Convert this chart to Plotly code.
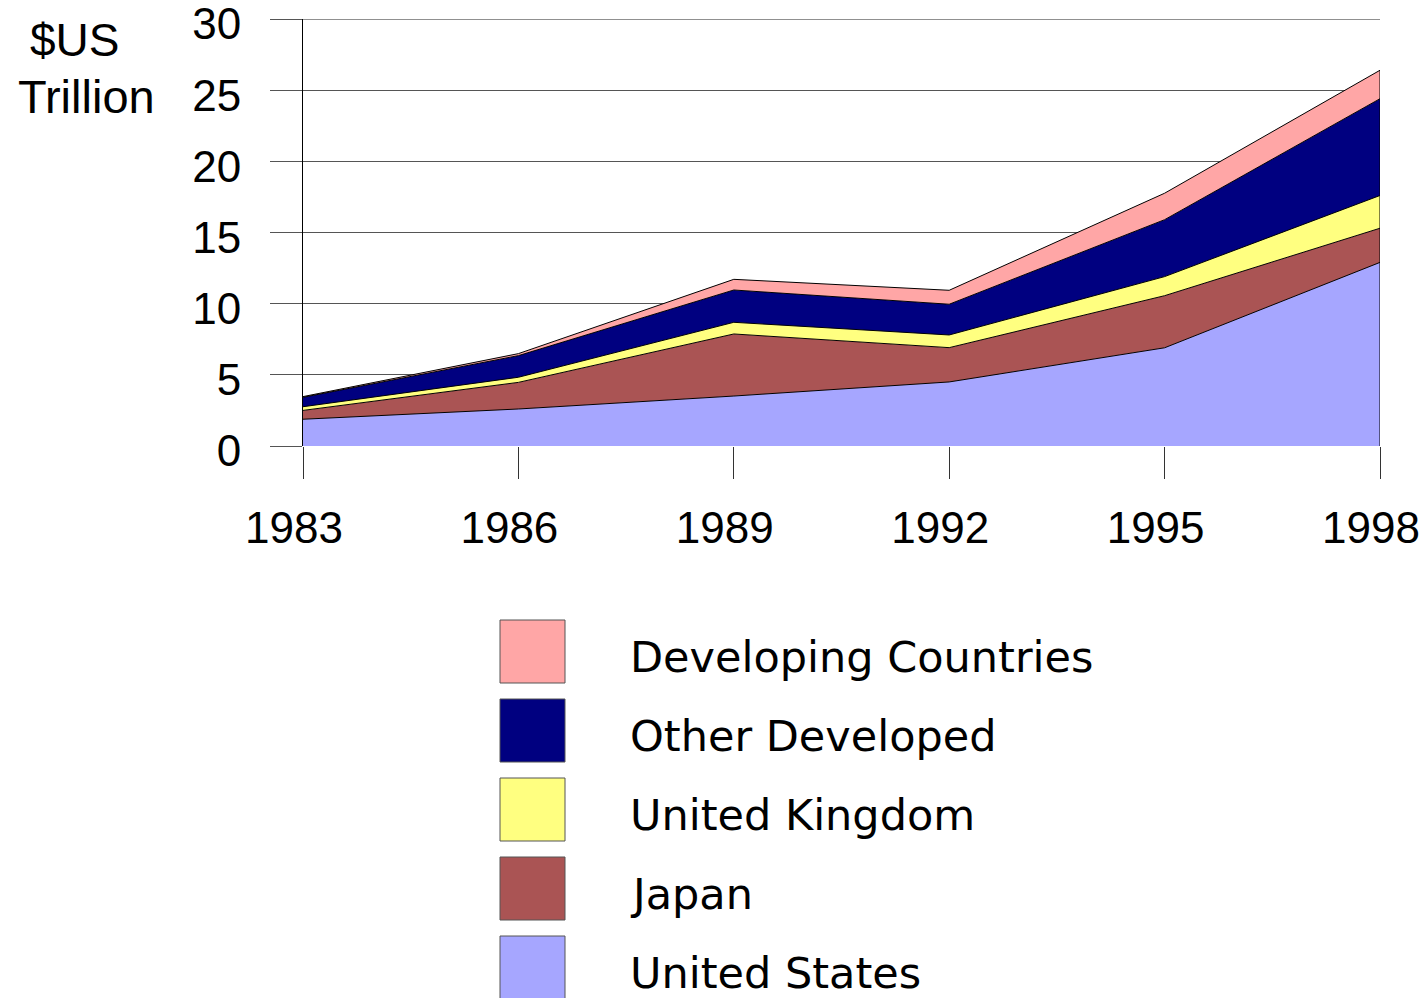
import plotly.graph_objects as go

years = [1983, 1986, 1989, 1992, 1995, 1998]
united_states = [1.88, 2.60, 3.51, 4.50, 6.90, 12.90]
japan = [0.62, 1.87, 4.36, 2.41, 3.66, 2.40]
united_kingdom = [0.26, 0.36, 0.82, 0.89, 1.34, 2.30]
other_developed = [0.66, 1.52, 2.27, 2.16, 4.00, 6.80]
developing = [0.05, 0.14, 0.75, 0.98, 1.86, 2.00]

series_names = ["United States", "Japan", "United Kingdom", "Other Developed", "Developing Countries"]
series_values = [united_states, japan, united_kingdom, other_developed, developing]
series_colors = ["#A6A6FF", "#AA5454", "#FFFF80", "#000080", "#FFA6A6"]

y_ticks = [0, 5, 10, 15, 20, 25, 30]

W, H = 1426, 998
L, R, T, B = 303, 1380, 19, 446  # plot area in page pixels


def px_to_paper_x(px):
    return (px - L) / (R - L)


def px_to_paper_y(py):
    return (B - py) / (B - T)


fig = go.Figure()
for name, vals, col in zip(series_names, series_values, series_colors):
    fig.add_trace(go.Scatter(
        x=years, y=vals, name=name, mode="lines",
        stackgroup="one", fillcolor=col,
        line=dict(color="#000000", width=1),
        showlegend=False, hoverinfo="skip",
    ))

# right edge outline of the stacked area
total_last = sum(v[-1] for v in series_values)
fig.add_shape(type="line", xref="x", yref="y", x0=years[-1], x1=years[-1],
              y0=0, y1=total_last, line=dict(color="#000000", width=1), layer="above")
# top gridline
fig.add_shape(type="line", xref="paper", yref="y", x0=0, x1=1, y0=y_ticks[-1], y1=y_ticks[-1],
              line=dict(color="#222222", width=1), layer="below")

fig.update_layout(
    width=W, height=H,
    margin=dict(l=L, r=W - R, t=T, b=H - B, pad=0, autoexpand=False),
    paper_bgcolor="white", plot_bgcolor="white",
    font=dict(family="Liberation Sans, Arial, sans-serif", color="black", size=44),
    showlegend=False,
)
fig.update_xaxes(
    range=[years[0], years[-1]], tickmode="array", tickvals=years,
    ticktext=[str(y) for y in years], automargin=False,
    showgrid=False, zeroline=False, showline=False,
    ticks="outside", ticklen=32, tickcolor="#333333", tickwidth=1,
    tickfont=dict(size=44), ticklabelstandoff=11, ticklabelshift=-9,
    ticklabeloverflow="allow",
)
fig.update_yaxes(
    range=[0, 30], tickmode="array", tickvals=y_ticks, automargin=False,
    showgrid=True, gridcolor="#555555", gridwidth=1,
    zeroline=False, showline=True, linecolor="#000000", linewidth=1,
    ticks="outside", ticklen=32, tickcolor="#555555", tickwidth=1,
    tickfont=dict(size=44), ticklabelstandoff=20, ticklabelshift=5,
    ticklabeloverflow="allow",
)

# axis title
fig.add_annotation(text="$US", xref="paper", yref="paper",
                   x=px_to_paper_x(74), y=px_to_paper_y(40), xanchor="center", yanchor="middle",
                   showarrow=False, font=dict(size=46))
fig.add_annotation(text="Trillion", xref="paper", yref="paper",
                   x=px_to_paper_x(86), y=px_to_paper_y(97), xanchor="center", yanchor="middle",
                   showarrow=False, font=dict(size=47))

# legend (drawn manually, top entry = top series)
legend_order = list(range(len(series_names)))[::-1]
row_top0, row_pitch, box_h = 620, 79, 63
for i, idx in enumerate(legend_order):
    top = row_top0 + i * row_pitch
    fig.add_shape(type="rect", xref="paper", yref="paper",
                  x0=px_to_paper_x(500), x1=px_to_paper_x(565),
                  y0=px_to_paper_y(top + box_h), y1=px_to_paper_y(top),
                  fillcolor=series_colors[idx], line=dict(color="#555555", width=1))
    fig.add_annotation(text=series_names[idx], xref="paper", yref="paper",
                       x=px_to_paper_x(628), y=px_to_paper_y(top + box_h / 2 + 5),
                       xanchor="left", yanchor="middle", showarrow=False,
                       font=dict(family="DejaVu Sans, sans-serif", size=43))

fig.write_html("out.html", config={"displayModeBar": False},
               post_script="document.body.style.margin='0';")
